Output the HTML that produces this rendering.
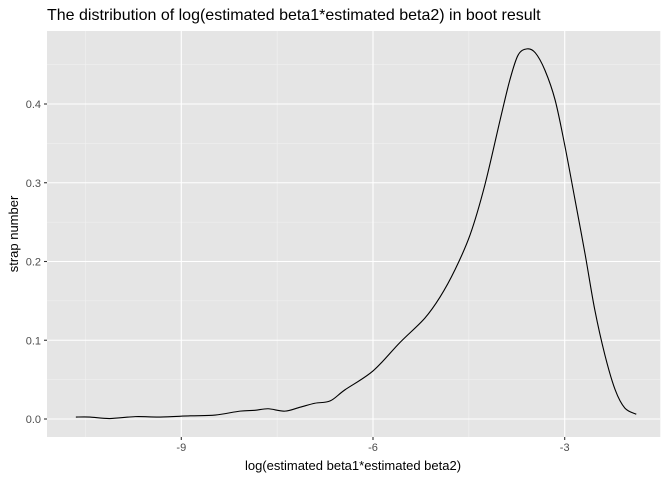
<!DOCTYPE html>
<html><head><meta charset="utf-8"><style>
body{margin:0;background:#fff;}
svg{display:block;font-family:"Liberation Sans",Arial,sans-serif;}
</style></head><body>
<svg id="chart" width="672" height="480">
<text x="47" y="20" font-size="16" fill="#000">The distribution of log(estimated beta1*estimated beta2) in boot result</text>
<rect x="47" y="31" width="613" height="406" fill="#e5e5e5"/>
<g id="grid"></g>
<g id="axes"></g>
<path id="curve" fill="none" stroke="#000" stroke-width="1.1"/>
<text x="353" y="470" font-size="13" text-anchor="middle" fill="#000">log(estimated beta1*estimated beta2)</text>
<text transform="translate(18,234) rotate(-90)" font-size="13" text-anchor="middle" fill="#000">strap number</text>
</svg>
<script>
const xs=[-10.65,-10.43,-10.12,-9.72,-9.33,-8.86,-8.47,-8.08,-7.85,-7.64,-7.38,-7.14,-6.91,-6.67,-6.44,-6.00,-5.58,-5.19,-4.95,-4.72,-4.48,-4.25,-4.01,-3.86,-3.73,-3.59,-3.46,-3.31,-3.15,-3.00,-2.84,-2.68,-2.53,-2.37,-2.21,-2.06,-1.88];
const ys=[.0025,.0025,.0006,.003,.0025,.004,.005,.010,.011,.013,.010,.015,.020,.023,.037,.061,.097,.128,.155,.189,.234,.297,.380,.430,.462,.470,.465,.443,.405,.348,.279,.209,.139,.081,.037,.014,.006];
const xTicks=[-9,-6,-3];
const xMinor=[-10.5,-7.5,-4.5,-1.5];
const yTicks=[0,0.1,0.2,0.3,0.4];
const yTickLabels=["0.0","0.1","0.2","0.3","0.4"];
const sx=v=>373+(v+6)*63.9;
const sy=v=>419-v*787.5;
const NS="http://www.w3.org/2000/svg";
const grid=document.getElementById('grid'),axes=document.getElementById('axes');
function line(p,x1,y1,x2,y2,c,w){const l=document.createElementNS(NS,'line');l.setAttribute('x1',x1);l.setAttribute('y1',y1);l.setAttribute('x2',x2);l.setAttribute('y2',y2);l.setAttribute('stroke',c);l.setAttribute('stroke-width',w);p.appendChild(l);return l;}
function text(p,x,y,s,a){const t=document.createElementNS(NS,'text');t.setAttribute('x',x);t.setAttribute('y',y);t.setAttribute('font-size','11');t.setAttribute('fill','#4d4d4d');t.setAttribute('text-anchor',a);t.textContent=s;p.appendChild(t);return t;}
xMinor.forEach(v=>{const l=line(grid,sx(v),31,sx(v),437,'#f2f2f2',0.6);

});
for(let i=0;i<yTicks.length-1;i++){const v=(yTicks[i]+yTicks[i+1])/2;const l=line(grid,47,sy(v),660,sy(v),'#f2f2f2',0.6);

}
{const l=line(grid,47,sy(0.45),660,sy(0.45),'#f2f2f2',0.6);

}
xTicks.forEach(v=>{const l=line(grid,sx(v),31,sx(v),437,'#fff',1.1);


const tk=line(axes,sx(v),437,sx(v),440,'#333',1.1);


const t=text(axes,sx(v),451,String(v).replace('-','-'),'middle');

});
yTicks.forEach((v,i)=>{const l=line(grid,47,sy(v),660,sy(v),'#fff',1.1);


const tk=line(axes,44,sy(v),47,sy(v),'#333',1.1);


const t=text(axes,41,sy(v)+4,yTickLabels[i],'end');

});
const P=xs.map((x,i)=>[sx(x),sy(ys[i])]);
let d='M'+P[0][0]+','+P[0][1];
for(let i=0;i<P.length-1;i++){const p0=P[Math.max(i-1,0)],p1=P[i],p2=P[i+1],p3=P[Math.min(i+2,P.length-1)];
const c1=[p1[0]+(p2[0]-p0[0])/6,p1[1]+(p2[1]-p0[1])/6],c2=[p2[0]-(p3[0]-p1[0])/6,p2[1]-(p3[1]-p1[1])/6];
d+=`C${c1[0]},${c1[1]} ${c2[0]},${c2[1]} ${p2[0]},${p2[1]}`;}
document.getElementById('curve').setAttribute('d',d);
</script>
</body></html>
